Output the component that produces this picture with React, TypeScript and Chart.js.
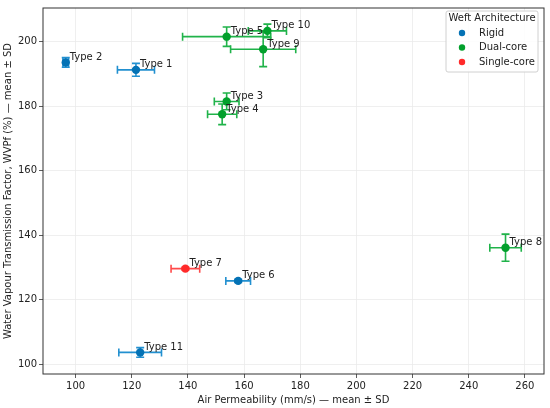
import React, { useEffect, useRef } from "react";
import { Chart, ChartConfiguration, registerables } from "chart.js";

Chart.register(...registerables);

// Fabric types, measured mean ± SD
const typeNames = ["Type 1", "Type 2", "Type 3", "Type 4", "Type 5", "Type 6", "Type 7", "Type 8", "Type 9", "Type 10", "Type 11"];
const airPerm = [121.5, 96.5, 153.8, 152.2, 153.8, 157.9, 139.1, 253.1, 166.8, 168.3, 123.0];
const airPermSD = [6.6, 1.0, 4.4, 5.2, 15.7, 4.4, 5.1, 5.6, 11.6, 6.8, 7.6];
const wvpf = [191.3, 193.6, 181.5, 177.5, 201.6, 125.8, 129.6, 136.1, 197.7, 203.4, 103.6];
const wvpfSD = [2.0, 1.5, 2.6, 3.2, 3.0, 0.5, 0.4, 4.2, 5.4, 2.1, 1.5];
const architecture = ["Rigid", "Rigid", "Dual-core", "Dual-core", "Dual-core", "Rigid", "Single-core", "Dual-core", "Dual-core", "Dual-core", "Rigid"];

const xTicks = [100, 120, 140, 160, 180, 200, 220, 240, 260];
const yTicks = [100, 120, 140, 160, 180, 200];

const groups = ["Rigid", "Dual-core", "Single-core"];
const markerColors: Record<string, string> = {
  Rigid: "#0472b5",
  "Dual-core": "#02a02c",
  "Single-core": "#ff2a2a",
};
const barColors: Record<string, string> = {
  Rigid: "#2290d0",
  "Dual-core": "#20b34a",
  "Single-core": "#ff4a4a",
};

const FONT = "DejaVu Sans";

const errorBarPlugin = {
  id: "errorBars",
  beforeDatasetsDraw(chart: any) {
    const { ctx, scales } = chart;
    const xs = scales.x;
    const ys = scales.y;
    ctx.save();
    ctx.lineWidth = 1.6;
    chart.data.datasets.forEach((ds: any) => {
      ctx.strokeStyle = barColors[ds.label];
      ds.data.forEach((p: any) => {
        const px = xs.getPixelForValue(p.x);
        const py = ys.getPixelForValue(p.y);
        const x0 = xs.getPixelForValue(p.x - p.xErr);
        const x1 = xs.getPixelForValue(p.x + p.xErr);
        const y0 = ys.getPixelForValue(p.y - p.yErr);
        const y1 = ys.getPixelForValue(p.y + p.yErr);
        const cap = 4;
        ctx.beginPath();
        ctx.moveTo(x0, py);
        ctx.lineTo(x1, py);
        ctx.moveTo(x0, py - cap);
        ctx.lineTo(x0, py + cap);
        ctx.moveTo(x1, py - cap);
        ctx.lineTo(x1, py + cap);
        ctx.moveTo(px, y0);
        ctx.lineTo(px, y1);
        ctx.moveTo(px - cap, y0);
        ctx.lineTo(px + cap, y0);
        ctx.moveTo(px - cap, y1);
        ctx.lineTo(px + cap, y1);
        ctx.stroke();
      });
    });
    ctx.restore();
  },
  afterDatasetsDraw(chart: any) {
    const { ctx, scales, chartArea } = chart;
    const xs = scales.x;
    const ys = scales.y;
    ctx.save();
    // point labels
    ctx.font = `10px "${FONT}"`;
    ctx.fillStyle = "#222";
    ctx.textAlign = "left";
    ctx.textBaseline = "middle";
    chart.data.datasets.forEach((ds: any) => {
      ds.data.forEach((p: any) => {
        const px = xs.getPixelForValue(p.x);
        const py = ys.getPixelForValue(p.y);
        ctx.fillText(p.name, px + 4, py - 5);
      });
    });
    // axes frame
    ctx.strokeStyle = "#333";
    ctx.lineWidth = 1;
    ctx.strokeRect(chartArea.left, chartArea.top, chartArea.right - chartArea.left, chartArea.bottom - chartArea.top);
    // legend
    const lx = 446;
    const ly = 11;
    const lw = 92;
    const lh = 61;
    ctx.fillStyle = "rgba(255,255,255,0.85)";
    ctx.strokeStyle = "#d0d0d0";
    ctx.beginPath();
    ctx.roundRect(lx, ly, lw, lh, 2);
    ctx.fill();
    ctx.stroke();
    ctx.fillStyle = "#222";
    ctx.textAlign = "center";
    ctx.fillText("Weft Architecture", lx + lw / 2, ly + 7.5);
    ctx.textAlign = "left";
    chart.data.datasets.forEach((ds: any, i: number) => {
      const ry = ly + 22 + i * 14.5;
      ctx.fillStyle = markerColors[ds.label];
      ctx.beginPath();
      ctx.arc(lx + 16, ry, 3.2, 0, Math.PI * 2);
      ctx.fill();
      ctx.fillStyle = "#222";
      ctx.fillText(ds.label, lx + 33, ry);
    });
    ctx.restore();
  },
};

const App: React.FC = () => {
  const chartRef = useRef<HTMLCanvasElement | null>(null);
  const chartInstance = useRef<Chart | null>(null);

  useEffect(() => {
    document.body.style.margin = "0";
    if (!chartRef.current) return;
    if (chartInstance.current) chartInstance.current.destroy();

    const datasets = groups.map((g) => ({
      label: g,
      data: typeNames
        .map((name, i) => ({ name, x: airPerm[i], y: wvpf[i], xErr: airPermSD[i], yErr: wvpfSD[i], arch: architecture[i] }))
        .filter((p) => p.arch === g),
      backgroundColor: markerColors[g],
      borderColor: markerColors[g],
      pointRadius: 4.2,
      pointHoverRadius: 4.2,
      borderWidth: 0,
    }));

    const tickFont = { family: FONT, size: 10 };

    const config: ChartConfiguration = {
      type: "scatter",
      data: { datasets: datasets as any },
      options: {
        responsive: false,
        animation: false,
        layout: { padding: { top: 5, right: 6, left: 0, bottom: 0 } },
        plugins: {
          legend: { display: false },
          tooltip: { enabled: false },
        },
        scales: {
          x: {
            type: "linear",
            min: 88.4,
            max: 266.8,
            ticks: { color: "#222", font: tickFont, padding: 2, maxRotation: 0 },
            afterBuildTicks: (scale: any) => {
              scale.ticks = xTicks.map((value) => ({ value }));
            },
            afterFit: (scale: any) => {
              scale.height = 34;
            },
            grid: { color: "#ebebeb", lineWidth: 0.8, tickColor: "#333", tickLength: 4 },
            border: { display: false },
            title: {
              display: true,
              text: "Air Permeability (mm/s) — mean ± SD",
              color: "#222",
              font: { family: FONT, size: 10 },
              padding: { top: 0, bottom: 2 },
            },
          },
          y: {
            type: "linear",
            min: 96.9,
            max: 210.5,
            ticks: { color: "#222", font: tickFont, padding: 2 },
            afterBuildTicks: (scale: any) => {
              scale.ticks = yTicks.map((value) => ({ value }));
            },
            afterFit: (scale: any) => {
              scale.width = 43;
            },
            grid: { color: "#ebebeb", lineWidth: 0.8, tickColor: "#333", tickLength: 4 },
            border: { display: false },
            title: {
              display: true,
              text: "Water Vapour Transmission Factor, WVPf (%) — mean ± SD",
              color: "#222",
              font: { family: FONT, size: 10 },
              padding: { top: 2, bottom: 0 },
            },
          },
        },
      },
      plugins: [errorBarPlugin],
    };

    chartInstance.current = new Chart(chartRef.current, config);

    return () => {
      if (chartInstance.current) {
        chartInstance.current.destroy();
        chartInstance.current = null;
      }
    };
  }, []);

  return (
    <div style={{ width: 550, height: 408 }}>
      <canvas ref={chartRef} width={550} height={408}></canvas>
    </div>
  );
};

export default App;
